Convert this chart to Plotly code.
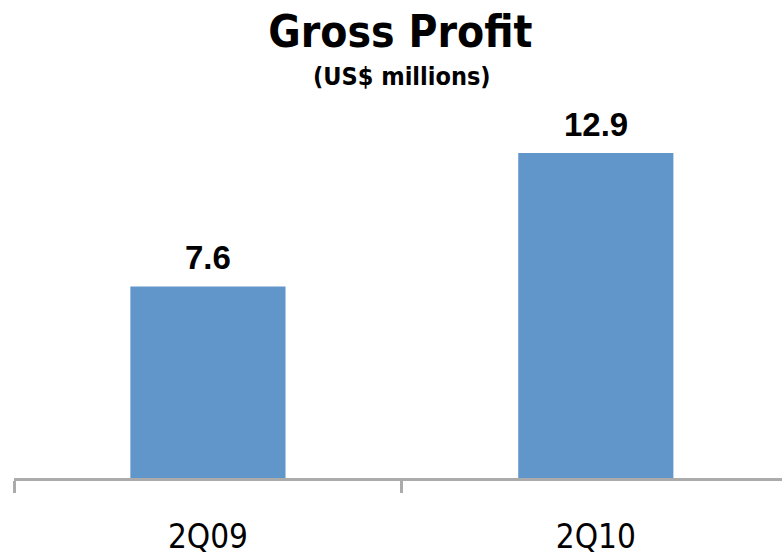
import plotly.graph_objects as go

# Gross profit by quarter (US$ millions)
quarters = ["2Q09", "2Q10"]
gross_profit = [7.6, 12.9]
value_labels = ["7.6", "12.9"]

bar_color = "#6096CA"
axis_color = "#ABABAB"
narrow_font = "DejaVu Sans Condensed, DejaVu Sans, sans-serif"

fig = go.Figure()
fig.add_trace(go.Bar(
    x=quarters,
    y=gross_profit,
    marker=dict(color=bar_color, line=dict(width=0)),
    hoverinfo="skip",
))

# value labels sitting just above each bar
for q, v, t in zip(quarters, gross_profit, value_labels):
    fig.add_annotation(
        x=q, y=v, text="<b>%s</b>" % t,
        xref="x", yref="y",
        showarrow=False, yanchor="bottom", yshift=9, borderpad=0,
        font=dict(family="Liberation Sans, Arial, sans-serif", size=33, color="#000000"),
    )

fig.add_annotation(
    x=0.505, y=1.063, xref="paper", yref="paper",
    text="<b>(US$ millions)</b>", showarrow=False,
    xanchor="center", yanchor="middle",
    font=dict(family=narrow_font, size=25, color="#000000"),
)

fig.update_layout(
    width=782, height=559,
    margin=dict(l=14, r=0, t=100, b=81, pad=0),
    paper_bgcolor="white", plot_bgcolor="white",
    showlegend=False,
    bargap=0.6,
    title=dict(
        text="<b>Gross Profit</b>",
        x=0.512, xanchor="center", xref="container",
        y=1 - 32 / 559, yanchor="middle", yref="container",
        font=dict(family=narrow_font, size=44, color="#000000"),
    ),
    xaxis=dict(
        type="category",
        range=[-0.5, 1.48],
        showline=True, linecolor=axis_color, linewidth=3,
        ticks="outside", tickson="boundaries", ticklen=12, tickwidth=3, tickcolor=axis_color,
        ticklabelstandoff=27,
        tickfont=dict(family=narrow_font, size=33, color="#000000"),
        showgrid=False, zeroline=False, fixedrange=True,
    ),
    yaxis=dict(
        range=[0, 15],
        visible=False, showgrid=False, zeroline=False, fixedrange=True,
    ),
)

fig.write_html("out.html")
